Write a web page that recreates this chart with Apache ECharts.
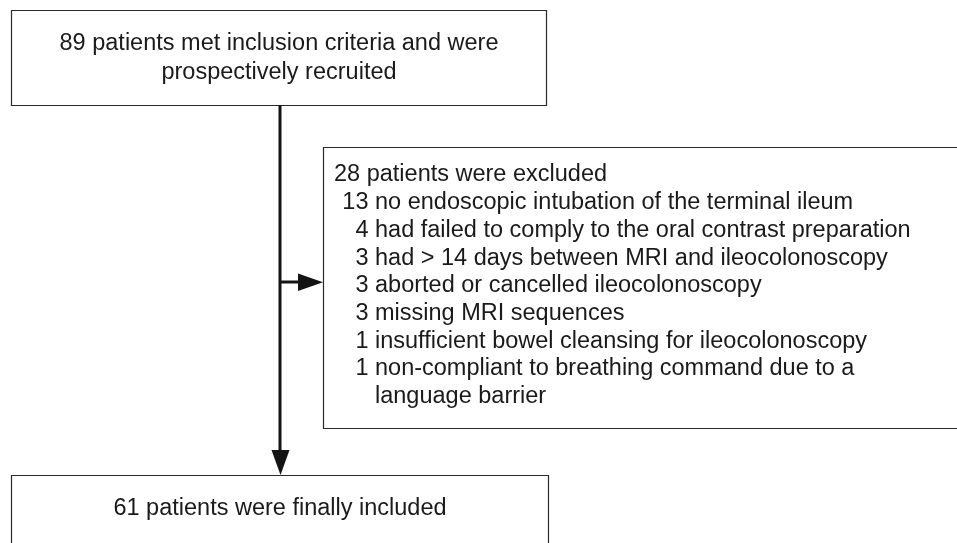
<!DOCTYPE html>
<html>
<head>
<meta charset="utf-8">
<script src="https://cdn.jsdelivr.net/npm/echarts@6/dist/echarts.min.js"></script>
<style>html,body{margin:0;padding:0;background:#fff;}#chart{width:957px;height:543px;}</style>
</head>
<body>
<div id="chart"></div>
<script>
// ---- data ----
var topBoxLines = ['89 patients met inclusion criteria and were', 'prospectively recruited'];
var excludedHeader = '28 patients were excluded';
var excludedCounts = ['13', '4', '3', '3', '3', '1', '1'];
var excludedReasons = [
  'no endoscopic intubation of the terminal ileum',
  'had failed to comply to the oral contrast preparation',
  'had > 14 days between MRI and ileocolonoscopy',
  'aborted or cancelled ileocolonoscopy',
  'missing MRI sequences',
  'insufficient bowel cleansing for ileocolonoscopy',
  'non-compliant to breathing command due to a\nlanguage barrier'
];
var finalBoxLines = ['61 patients were finally included'];

// ---- layout ----
var FONT = '23.5px "Liberation Sans", Arial, sans-serif';
var TXT = '#1a1a1a';
var BORDER = '#2a2a2a';
var ARROW = '#141414';
var LH = 27.7;

var chart = echarts.init(document.getElementById('chart'), null, {renderer: 'canvas'});
var g = [];

function box(x, y, w, h) {
  g.push({type: 'rect', shape: {x: x, y: y, width: w, height: h},
    style: {fill: '#fff', stroke: BORDER, lineWidth: 1.2}, z: 1});
}
function text(str, x, y, align, lh) {
  g.push({type: 'text', x: x, y: y, z: 5,
    style: {text: str, font: FONT, fill: TXT, align: align, verticalAlign: 'middle', lineHeight: lh || LH}});
}

// boxes
box(11.5, 10.5, 535, 95);
box(323.5, 147.5, 660, 281);
box(11.5, 475.5, 537, 100);

// top box text
topBoxLines.forEach(function (s, i) { text(s, 279, 44 + i * 29, 'center'); });

// exclusion text
text(excludedHeader, 334, 175, 'left');
var row = 1;
excludedReasons.forEach(function (s, i) {
  var y = 175 + row * LH;
  text(excludedCounts[i], 368.5, y, 'right');
  var parts = s.split('\n');
  parts.forEach(function (p, k) { text(p, 375, y + k * LH, 'left'); });
  row += parts.length;
});

// final box text
finalBoxLines.forEach(function (s, i) { text(s, 280, 509 + i * LH, 'center'); });

// arrows
g.push({type: 'line', shape: {x1: 280, y1: 105, x2: 280, y2: 452}, style: {stroke: ARROW, lineWidth: 3}, z: 3});
g.push({type: 'polygon', shape: {points: [[271.5, 450], [289.5, 450], [280.5, 475]]}, style: {fill: ARROW}, z: 3});
g.push({type: 'line', shape: {x1: 280, y1: 282, x2: 300, y2: 282}, style: {stroke: ARROW, lineWidth: 3}, z: 3});
g.push({type: 'polygon', shape: {points: [[298, 273.5], [298, 291], [323, 282.3]]}, style: {fill: ARROW}, z: 3});

chart.setOption({backgroundColor: '#fff', animation: false, graphic: g});
</script>
</body>
</html>
